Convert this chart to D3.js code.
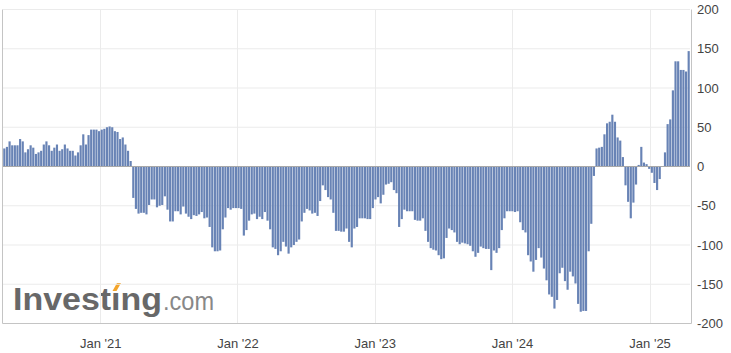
<!DOCTYPE html>
<html>
<head>
  <meta charset="utf-8">
  <title>Weekly net positions</title>
  <script src="https://d3js.org/d3.v7.min.js"></script>
  <style>
    body { margin: 0; background: #fff; }
    svg { display: block; font-family: "Liberation Sans", Arial, sans-serif; }
  </style>
</head>
<body>
  <div id="chart"></div>

  <script>
    // weekly readings, first one on this date
    var firstWeek = "2020-04-21";
    var values = [
      23, 25, 32, 27, 27, 27, 35, 32, 18, 22, 27, 24, 16, 18, 20, 28, 32, 27, 20, 24,
      28, 20, 22, 28, 23, 20, 20, 14, 18, 27, 41, 28, 40, 47, 47, 47, 45, 47, 48, 50,
      51, 50, 45, 44, 35, 37, 28, 20, 7, -40, -54, -60, -59, -59, -61, -49, -42, -42, -52, -50,
      -49, -38, -55, -70, -70, -57, -57, -61, -51, -60, -64, -67, -62, -63, -61, -58, -66, -65, -77, -103,
      -108, -108, -107, -80, -65, -53, -55, -53, -53, -53, -54, -88, -81, -69, -61, -60, -67, -64, -67, -58,
      -69, -80, -103, -105, -113, -108, -96, -102, -111, -103, -100, -96, -93, -70, -59, -54, -56, -60, -59, -63,
      -44, -24, -30, -39, -42, -59, -82, -82, -83, -83, -79, -96, -103, -79, -77, -66, -66, -66, -67, -67,
      -53, -42, -39, -47, -36, -23, -22, -20, -30, -34, -77, -67, -55, -57, -57, -57, -68, -69, -69, -66,
      -82, -96, -104, -106, -107, -113, -118, -117, -91, -79, -81, -84, -96, -99, -97, -98, -99, -101, -108, -115,
      -110, -102, -104, -105, -105, -132, -107, -110, -104, -81, -66, -57, -57, -57, -58, -57, -71, -81, -84, -113,
      -121, -134, -119, -104, -116, -130, -145, -163, -166, -181, -170, -136, -129, -146, -157, -134, -140, -149, -175, -185,
      -184, -184, -108, -73, -12, 23, 24, 25, 41, 55, 57, 66, 57, 37, 33, 12, -24, -45, -66, -46,
      -23, 2, 25, 5, 3, -3, -8, -21, -30, -16, 0, 18, 54, 60, 97, 134, 134, 123, 123, 121,
      147
    ];

    var yearTicks = ["2021-01-01", "2022-01-01", "2023-01-01", "2024-01-01", "2025-01-01"];
    var yearLabels = ["Jan '21", "Jan '22", "Jan '23", "Jan '24", "Jan '25"];
    var yTicks = [-200, -150, -100, -50, 0, 50, 100, 150, 200];

    var width = 731, height = 353;
    var plotLeft = 3, plotRight = 690, plotTop = 9.5, plotBottom = 323.5;

    var parse = d3.utcParse("%Y-%m-%d");
    var start = parse(firstWeek);
    var dates = values.map(function(d, i) { return d3.utcDay.offset(start, 7 * i); });

    var x = d3.scaleUtc()
      .domain([d3.utcHour.offset(dates[0], -84), d3.utcHour.offset(dates[dates.length - 1], 84)])
      .range([plotLeft, plotRight]);

    var y = d3.scaleLinear()
      .domain([-200, 200])
      .range([plotBottom, plotTop]);

    var step = x(dates[1]) - x(dates[0]);
    var barW = step * 0.82;

    var svg = d3.select("#chart").append("svg")
      .attr("width", width)
      .attr("height", height);

    // watermark
    var logo = svg.append("g");
    logo.append("text")
      .attr("x", 13)
      .attr("y", 309.5)
      .attr("font-size", 31)
      .attr("font-weight", "bold")
      .attr("fill", "#686868")
      .attr("textLength", 149)
      .attr("lengthAdjust", "spacingAndGlyphs")
      .text("Invest\u0131ng");
    logo.append("path")
      .attr("d", "M112.5,291 L116.5,291 L121,283 L117,283 Z")
      .attr("fill", "#f4a52a");
    logo.append("text")
      .attr("x", 163)
      .attr("y", 309.5)
      .attr("font-size", 26)
      .attr("fill", "#888")
      .attr("textLength", 51)
      .attr("lengthAdjust", "spacingAndGlyphs")
      .text(".com");

    // grid
    svg.append("g")
      .selectAll("line")
      .data(yTicks.filter(function(d) { return d !== 0 && d !== -200; }))
      .enter().append("line")
      .attr("x1", plotLeft).attr("x2", plotRight)
      .attr("y1", function(d) { return y(d); })
      .attr("y2", function(d) { return y(d); })
      .attr("stroke", "#ebebeb");

    svg.append("g")
      .selectAll("line")
      .data(yearTicks.map(parse))
      .enter().append("line")
      .attr("x1", function(d) { return Math.round(x(d)) + 0.5; })
      .attr("x2", function(d) { return Math.round(x(d)) + 0.5; })
      .attr("y1", plotTop).attr("y2", plotBottom)
      .attr("stroke", "#ebebeb");

    // bars
    svg.append("g")
      .selectAll("rect")
      .data(values)
      .enter().append("rect")
      .attr("x", function(d, i) { return x(dates[i]) - barW / 2; })
      .attr("y", function(d) { return y(Math.max(0, d)); })
      .attr("width", barW)
      .attr("height", function(d) { return Math.abs(y(d) - y(0)); })
      .attr("fill", "#6883b5");

    // zero line and frame
    svg.append("line")
      .attr("x1", plotLeft).attr("x2", plotRight)
      .attr("y1", y(0)).attr("y2", y(0))
      .attr("stroke", "#a8a8a8");

    svg.append("path")
      .attr("d", "M2.5," + plotTop + " V" + plotBottom + " H" + (plotRight + 1.5) + " V" + plotTop)
      .attr("fill", "none")
      .attr("stroke", "#c4c4c4");

    // axes
    var xAxis = svg.append("g")
      .attr("transform", "translate(0," + plotBottom + ")")
      .call(d3.axisBottom(x)
        .tickValues(yearTicks.map(parse))
        .tickFormat(function(d, i) { return yearLabels[i]; })
        .tickSize(0)
        .tickPadding(15));

    var yAxis = svg.append("g")
      .attr("transform", "translate(" + (plotRight + 1) + ",0)")
      .call(d3.axisRight(y)
        .tickValues(yTicks)
        .tickFormat(function(d) { return String(d); })
        .tickSize(0)
        .tickPadding(6));

    [xAxis, yAxis].forEach(function(g) {
      g.select(".domain").remove();
      g.selectAll("text")
        .attr("font-family", "Liberation Sans, Arial, sans-serif")
        .attr("font-size", 13)
        .attr("fill", "#444");
    });
  </script>
</body>
</html>
